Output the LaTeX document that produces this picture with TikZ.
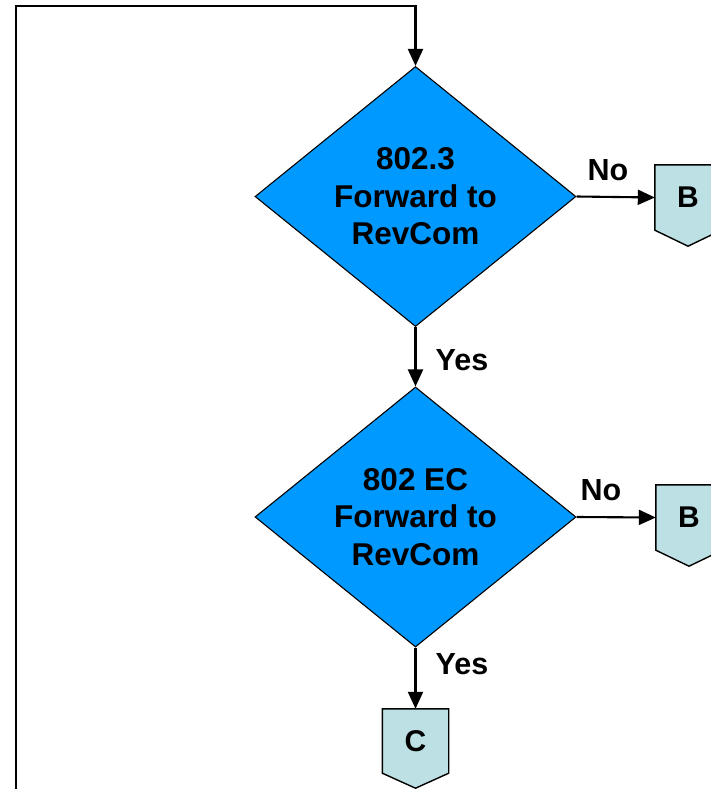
\documentclass[tikz,border=0pt]{standalone}
\usepackage{fontspec}
\setmainfont{Liberation Sans}
\usetikzlibrary{shapes.geometric,arrows.meta,backgrounds}
\definecolor{decblue}{HTML}{0099FF}
\definecolor{pagecol}{HTML}{BCE0E4}
\begin{document}
\begin{tikzpicture}[x=1pt,y=-1pt,
  decision/.style={diamond, draw=black, line width=1.1pt, fill=decblue,
    minimum width=321pt, minimum height=255pt, inner sep=0pt, align=center,
    font=\fontsize{31.5}{37.5}\selectfont\bfseries},
  offpage/.style={rectangle, inner sep=0pt, minimum width=66pt, minimum height=65pt,
    font=\fontsize{30}{34}\selectfont\bfseries},
  lbl/.style={font=\fontsize{30.5}{34}\selectfont\bfseries, inner sep=0pt},
  flow/.style={line width=2.1pt, -{Triangle[length=17pt,width=15pt]}},
  pageshape/.style={draw=black, line width=1.4pt, fill=pagecol}]
\useasboundingbox (0,0) rectangle (711,789);
\node[decision] (d1) at (415.5,196.5) {802.3\\Forward to\\RevCom};
\node[decision] (d2) at (415.5,517) {802 EC\\Forward to\\RevCom};
\node[offpage] (b1) at (688,197.5) {B};
\node[offpage] (b2) at (689,517.5) {B};
\node[offpage, minimum height=64pt] (c) at (415.5,741) {C};
\begin{scope}[on background layer]
  \draw[pageshape] (b1.north west) -- (b1.north east) -- (b1.south east)
    -- ([yshift=-16pt]b1.south) -- (b1.south west) -- cycle;
  \draw[pageshape] (b2.north west) -- (b2.north east) -- (b2.south east)
    -- ([yshift=-16pt]b2.south) -- (b2.south west) -- cycle;
  \draw[pageshape] (c.north west) -- (c.north east) -- (c.south east)
    -- ([yshift=-15pt]c.south) -- (c.south west) -- cycle;
\end{scope}
\draw[flow] (d1.east) -- (b1.west);
\draw[flow] (d1.south) -- (d2.north);
\draw[flow] (d2.east) -- (b2.west);
\draw[flow] (d2.south) -- (c.north);
\coordinate (loopstart) at (16,800);
\coordinate (looptop) at (415.5,6);
\draw[flow] (loopstart) |- (looptop) -- (d1.north);
\node[lbl] (no1) at (608,170) {No};
\node[lbl] (no2) at (601,490) {No};
\node[lbl] (yes1) at (462,360) {Yes};
\node[lbl] (yes2) at (462,664) {Yes};
\end{tikzpicture}
\end{document}
